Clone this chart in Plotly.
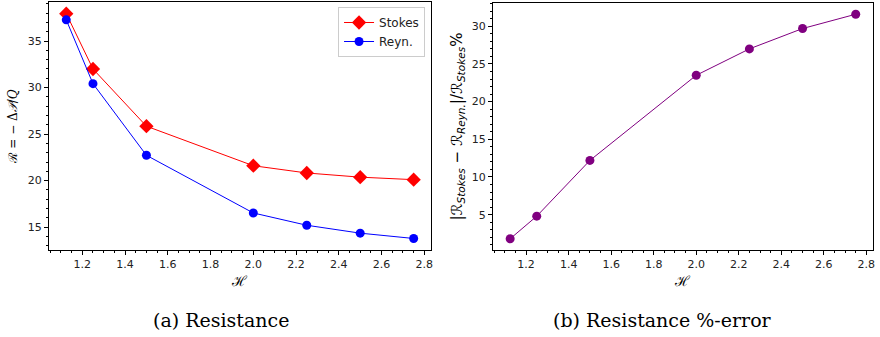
import plotly.graph_objects as go

H = [1.125, 1.25, 1.5, 2.0, 2.25, 2.5, 2.75]
R_stokes = [37.95, 32.0, 25.85, 21.6, 20.82, 20.37, 20.1]
R_reyn = [37.28, 30.42, 22.72, 16.52, 15.2, 14.35, 13.78]
err_pct = [1.8, 4.8, 12.2, 23.5, 27.0, 29.7, 31.6]

xticks = [1.2, 1.4, 1.6, 1.8, 2.0, 2.2, 2.4, 2.6, 2.8]

fig = go.Figure()
fig.add_trace(go.Scatter(x=H, y=R_stokes, mode="lines+markers", name="Stokes",
                         line=dict(color="red", width=1),
                         marker=dict(symbol="diamond", size=11, color="red"),
                         xaxis="x", yaxis="y"))
fig.add_trace(go.Scatter(x=H, y=R_reyn, mode="lines+markers", name="Reyn.",
                         line=dict(color="blue", width=1),
                         marker=dict(symbol="circle", size=9, color="blue"),
                         xaxis="x", yaxis="y"))
fig.add_trace(go.Scatter(x=H, y=err_pct, mode="lines+markers", name="err",
                         line=dict(color="purple", width=1),
                         marker=dict(symbol="circle", size=9, color="purple"),
                         showlegend=False, xaxis="x2", yaxis="y2"))

W, Hh = 880, 337
tickfont = dict(family="DejaVu Sans", size=11, color="#222")
common = dict(showline=True, linecolor="black", linewidth=1, mirror=True,
              ticks="outside", ticklen=4, tickcolor="black", showgrid=False,
              zeroline=False, tickfont=tickfont)

def xax(domain, anchor):
    return dict(domain=domain, anchor=anchor, range=[1.04375, 2.83125],
                tickvals=xticks, ticktext=[f"{v:.1f}" for v in xticks],
                minor=dict(dtick=0.05, tick0=0, ticks="outside", ticklen=2, tickcolor="black"),
                title=dict(text="ℋ", font=dict(family="DejaVu Serif", size=14, color="black"), standoff=5),
                **common)

fig.update_layout(
    width=W, height=Hh, margin=dict(l=0, r=0, t=0, b=0),
    plot_bgcolor="white", paper_bgcolor="white",
    xaxis=xax([49 / W, 432 / W], "y"),
    xaxis2=xax([494 / W, 875 / W], "y2"),
    yaxis=dict(domain=[1 - 250 / Hh, 1 - 2 / Hh], anchor="x", range=[12.54, 39.2],
               tickvals=[15, 20, 25, 30, 35],
               minor=dict(dtick=1, tick0=0, ticks="outside", ticklen=2, tickcolor="black"),
               title=dict(text="ℛ = − Δ<i>𝒫</i>/<i>Q</i>",
                          font=dict(family="DejaVu Serif", size=12, color="black"), standoff=7),
               **common),
    yaxis2=dict(domain=[1 - 250 / Hh, 1 - 3 / Hh], anchor="x2", range=[0.31, 33.09],
                tickvals=[5, 10, 15, 20, 25, 30],
                minor=dict(dtick=1, tick0=0, ticks="outside", ticklen=2, tickcolor="black"),
                title=dict(text="|ℛ<sub><i>Stokes</i></sub> − ℛ<sub><i>Reyn.</i></sub>|/ℛ<sub><i>Stokes</i></sub>%",
                           font=dict(family="DejaVu Sans", size=15, color="black"), standoff=5),
                **common),
    legend=dict(x=426 / W, xanchor="right", y=1 - 7 / Hh, yanchor="top",
                bgcolor="white", bordercolor="#cccccc", borderwidth=1,
                font=dict(family="DejaVu Sans", size=12, color="#222"),
                itemwidth=30, tracegroupgap=0),
    annotations=[
        dict(text="(a) Resistance", x=222 / W, y=1 - 320 / Hh, xref="paper", yref="paper",
             showarrow=False, xanchor="center", yanchor="middle",
             font=dict(family="DejaVu Serif", size=19, color="black")),
        dict(text="(b) Resistance %-error", x=664 / W, y=1 - 320 / Hh, xref="paper", yref="paper",
             showarrow=False, xanchor="center", yanchor="middle",
             font=dict(family="DejaVu Serif", size=19, color="black")),
    ],
)

fig.write_html("out.html")
